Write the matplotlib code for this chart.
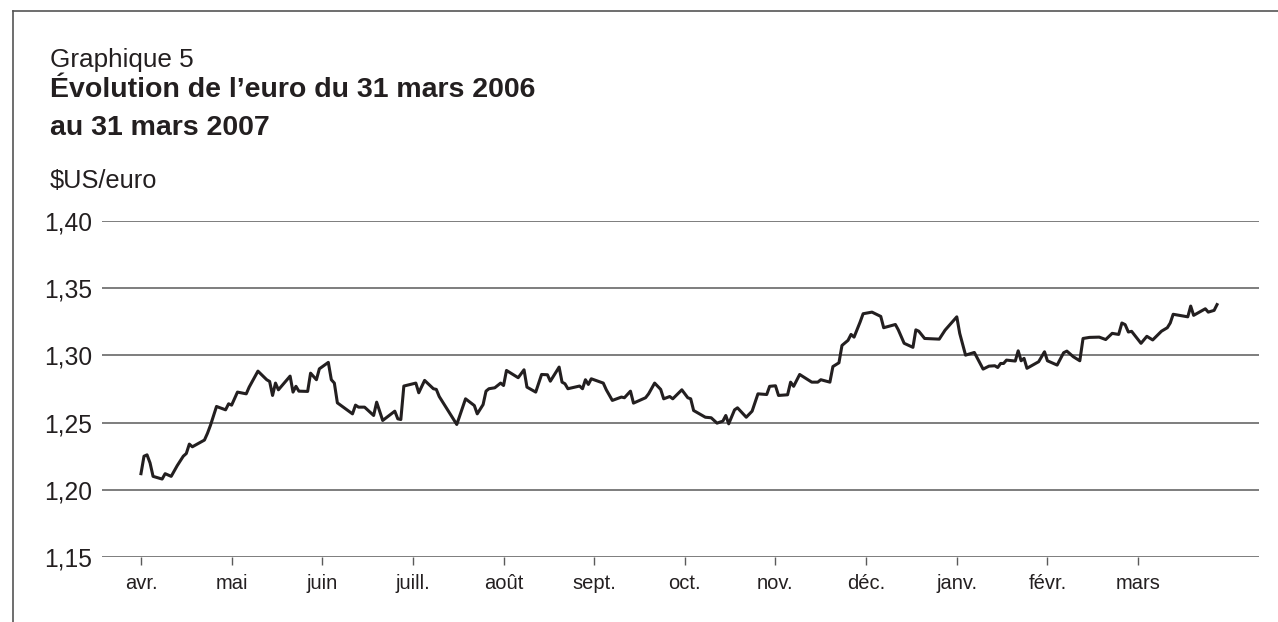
import matplotlib
matplotlib.use('Agg')
import matplotlib.pyplot as plt
from matplotlib.lines import Line2D
import calendar

plt.rcParams['font.family'] = ['Liberation Sans', 'DejaVu Sans']

# taux $US/euro
dates = ['2006-04-01', '2006-04-02', '2006-04-03', '2006-04-04', '2006-04-05', '2006-04-08',
         '2006-04-09', '2006-04-11', '2006-04-13', '2006-04-15', '2006-04-16', '2006-04-17',
         '2006-04-18', '2006-04-22', '2006-04-23', '2006-04-24', '2006-04-26', '2006-04-29',
         '2006-04-30',
         '2006-05-01', '2006-05-03', '2006-05-06', '2006-05-07', '2006-05-10', '2006-05-13',
         '2006-05-14', '2006-05-15', '2006-05-16', '2006-05-17', '2006-05-21', '2006-05-22',
         '2006-05-23', '2006-05-24', '2006-05-27', '2006-05-28', '2006-05-30', '2006-05-31',
         '2006-06-03', '2006-06-04', '2006-06-05', '2006-06-06', '2006-06-11', '2006-06-12',
         '2006-06-13', '2006-06-15', '2006-06-18', '2006-06-19', '2006-06-21', '2006-06-25',
         '2006-06-26', '2006-06-27', '2006-06-28',
         '2006-07-02', '2006-07-03', '2006-07-05', '2006-07-08', '2006-07-09', '2006-07-10',
         '2006-07-16', '2006-07-19', '2006-07-22', '2006-07-23', '2006-07-25', '2006-07-26',
         '2006-07-27', '2006-07-29', '2006-07-31',
         '2006-08-01', '2006-08-02', '2006-08-06', '2006-08-08', '2006-08-09', '2006-08-12',
         '2006-08-14', '2006-08-16', '2006-08-17', '2006-08-20', '2006-08-21', '2006-08-22',
         '2006-08-23', '2006-08-27', '2006-08-28', '2006-08-29', '2006-08-30', '2006-08-31',
         '2006-09-04', '2006-09-05', '2006-09-07', '2006-09-10', '2006-09-11', '2006-09-13',
         '2006-09-14', '2006-09-18', '2006-09-19', '2006-09-21', '2006-09-23', '2006-09-24',
         '2006-09-26', '2006-09-27', '2006-09-30',
         '2006-10-02', '2006-10-03', '2006-10-04', '2006-10-08', '2006-10-10', '2006-10-12',
         '2006-10-14', '2006-10-15', '2006-10-16', '2006-10-18', '2006-10-19', '2006-10-22',
         '2006-10-24', '2006-10-26', '2006-10-29', '2006-10-30',
         '2006-11-01', '2006-11-02', '2006-11-05', '2006-11-06', '2006-11-07', '2006-11-09',
         '2006-11-13', '2006-11-15', '2006-11-16', '2006-11-19', '2006-11-20', '2006-11-22',
         '2006-11-23', '2006-11-25', '2006-11-26', '2006-11-27', '2006-11-29', '2006-11-30',
         '2006-12-03', '2006-12-06', '2006-12-07', '2006-12-11', '2006-12-12', '2006-12-14',
         '2006-12-17', '2006-12-18', '2006-12-19', '2006-12-21', '2006-12-26', '2006-12-28',
         '2007-01-01', '2007-01-02', '2007-01-04', '2007-01-07', '2007-01-10', '2007-01-12',
         '2007-01-14', '2007-01-15', '2007-01-16', '2007-01-17', '2007-01-18', '2007-01-21',
         '2007-01-22', '2007-01-23', '2007-01-24', '2007-01-25', '2007-01-29', '2007-01-31',
         '2007-02-01', '2007-02-04', '2007-02-06', '2007-02-07', '2007-02-09', '2007-02-11',
         '2007-02-12', '2007-02-14', '2007-02-17', '2007-02-19', '2007-02-21', '2007-02-23',
         '2007-02-24', '2007-02-25', '2007-02-26', '2007-02-27',
         '2007-03-02', '2007-03-04', '2007-03-06', '2007-03-09', '2007-03-11', '2007-03-12',
         '2007-03-13', '2007-03-18', '2007-03-19', '2007-03-20', '2007-03-24', '2007-03-25',
         '2007-03-27', '2007-03-28']
rates = [1.212, 1.225, 1.226, 1.220, 1.210, 1.208,
         1.212, 1.210, 1.218, 1.225, 1.227, 1.234,
         1.232, 1.237, 1.242, 1.248, 1.262, 1.2595,
         1.264,
         1.263, 1.2727, 1.2714, 1.2764, 1.2883, 1.2819,
         1.2806, 1.2702, 1.2794, 1.2744, 1.2846, 1.2727,
         1.277, 1.2734, 1.2732, 1.2868, 1.2819, 1.290,
         1.2948, 1.2819, 1.2794, 1.2647, 1.2565, 1.263,
         1.2615, 1.2615, 1.2553, 1.2652, 1.2516, 1.2585,
         1.2528, 1.2523, 1.2772,
         1.2794, 1.2722, 1.2814, 1.2752, 1.2747, 1.2694,
         1.2486, 1.2677, 1.2627, 1.2565, 1.2634, 1.2734,
         1.2752, 1.2759, 1.2794,
         1.2776, 1.2888, 1.2834, 1.2893, 1.2764, 1.2727,
         1.2858, 1.2856, 1.2808, 1.2913, 1.2801, 1.2789,
         1.2752, 1.2772, 1.2752, 1.2819, 1.2784, 1.2826,
         1.2794, 1.2744, 1.2665, 1.269, 1.2685, 1.2734,
         1.2645, 1.2685, 1.2714, 1.2794, 1.2747, 1.2677,
         1.2694, 1.2677, 1.2744,
         1.2685, 1.2677, 1.259, 1.254, 1.2536, 1.2496,
         1.2511, 1.2553, 1.2491, 1.2595, 1.261, 1.254,
         1.2585, 1.2714, 1.2709, 1.277,
         1.2774, 1.2702, 1.2707, 1.2801, 1.277, 1.2858,
         1.2801, 1.2801, 1.2819, 1.2801, 1.2917, 1.2945,
         1.3074, 1.3112, 1.3156, 1.3136, 1.3248, 1.331,
         1.3322, 1.329, 1.3206, 1.323, 1.319, 1.309,
         1.306, 1.319, 1.318, 1.3126, 1.3121, 1.3188,
         1.3287, 1.3164, 1.3002, 1.3022, 1.2898, 1.292,
         1.2923, 1.291, 1.294, 1.294, 1.2965, 1.2958,
         1.3034, 1.296, 1.2978, 1.2904, 1.2953, 1.3027,
         1.296, 1.2928, 1.302, 1.3032, 1.299, 1.296,
         1.3126, 1.3134, 1.3136, 1.3118, 1.3164, 1.3156,
         1.3241, 1.3229, 1.3174, 1.3179,
         1.309, 1.3142, 1.3115, 1.318, 1.3206, 1.3241,
         1.3306, 1.3287, 1.3367, 1.3298, 1.3347, 1.3322,
         1.3335, 1.3378]

month_labels = ['avr.', 'mai', 'juin', 'juill.', 'août', 'sept.',
                'oct.', 'nov.', 'déc.', 'janv.', 'févr.', 'mars']
yticks = [1.15, 1.20, 1.25, 1.30, 1.35, 1.40]


# each month gets the same width on the axis, as in the original
def month_pos(s):
  y, m, d = [int(p) for p in s.split('-')]
  return (y - 2006) * 12 + (m - 4) + (d - 1) / calendar.monthrange(y, m)[1]


W, H = 1278, 622
fig = plt.figure(figsize=(W/100, H/100), dpi=100)
ax = fig.add_axes([102/W, 1-557/H, (1259-102)/W, (557-221)/H])

x = [month_pos(d) for d in dates]
ax.plot(x, rates, color='#231f20', lw=2.2, zorder=3)

ax.set_xlim(-0.43, 12.334)
ax.set_ylim(1.15, 1.40)

gcol = '#5a5a5a'
for v in yticks:
  ax.axhline(v, color=gcol, lw=1.1, zorder=1)
ax.set_yticks(yticks)
ax.set_yticklabels([('%.2f' % v).replace('.', ',') for v in yticks])
ax.tick_params(axis='y', length=0, pad=7, labelsize=17.7, labelcolor='#231f20')

ax.set_xticks(range(12))
ax.set_xticklabels(month_labels)
ax.tick_params(axis='x', length=6, width=1, color=gcol, pad=6, labelsize=14.5, labelcolor='#231f20')

for s in ax.spines.values():
  s.set_visible(False)

# titres
fig.text(50/W, 1-66.7/H, 'Graphique 5', fontsize=18.8, color='#231f20', va='baseline')
fig.text(50/W, 1-97/H, 'Évolution de l\u2019euro du 31 mars 2006', fontsize=20.5,
         fontweight='bold', color='#231f20', va='baseline')
fig.text(50/W, 1-135/H, 'au 31 mars 2007', fontsize=20.5, fontweight='bold',
         color='#231f20', va='baseline')
fig.text(50/W, 1-188/H, '$US/euro', fontsize=18.3, color='#231f20', va='baseline')

# cadre
fig.add_artist(Line2D([13/W, 1], [1-11/H, 1-11/H], color='#555555', lw=1.2))
fig.add_artist(Line2D([13/W, 13/W], [0, 1-11/H], color='#555555', lw=1.2))

fig.savefig('out.png', dpi=100)
